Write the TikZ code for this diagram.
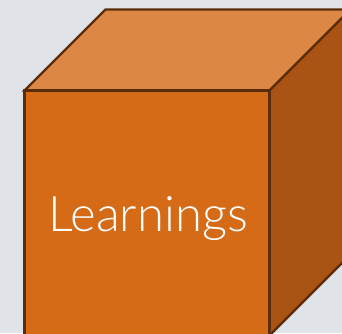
\documentclass[tikz,border=0pt]{standalone}
\usepackage{fontspec}
\newfontfamily\lbl{Lato Light}
\definecolor{bg}{HTML}{E0E4E8}
\definecolor{frontc}{HTML}{D56B17}
\definecolor{topc}{HTML}{DD8744}
\definecolor{sidec}{HTML}{A95414}
\definecolor{edgec}{HTML}{5A2C0A}
\begin{document}
\begin{tikzpicture}[x=1pt,y=1pt,
  face/.style={draw=edgec,line width=2.4pt,line join=miter}]
\useasboundingbox (0,0) rectangle (342,333);
\fill[bg] (0,0) rectangle (342,333);
\clip (0,0) rectangle (342,333);
% coordinates
\coordinate (fbl) at (24.5,-2.5);
\coordinate (fbr) at (269.5,-2.5);
\coordinate (ftr) at (269.5,242.5);
\coordinate (ftl) at (24.5,242.5);
\coordinate (btl) at (105.5,323.5);
\coordinate (btr) at (350.5,323.5);
\coordinate (bbr) at (350.5,78.5);
% faces
\filldraw[face,fill=topc] (ftl) -- (btl) -- (btr) -- (ftr) -- cycle;
\filldraw[face,fill=sidec] (ftr) -- (btr) -- (bbr) -- (fbr) -- cycle;
\filldraw[face,fill=frontc] (fbl) -- (fbr) -- (ftr) -- (ftl) -- cycle;
\node[text=white,font=\lbl\fontsize{49}{57}\selectfont,anchor=base] (label) at (148,102) {Learnings};
\end{tikzpicture}
\end{document}
